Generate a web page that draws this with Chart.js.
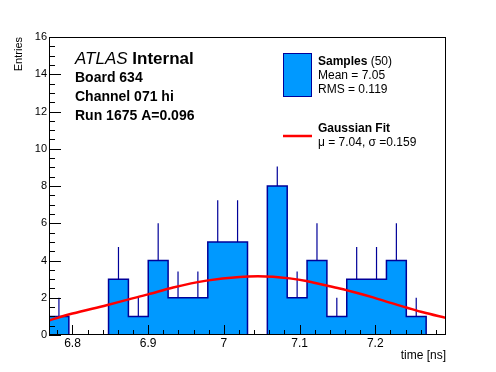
<!DOCTYPE html>
<html>
<head>
<meta charset="utf-8">
<script src="https://cdn.jsdelivr.net/npm/chart.js@4"></script>
<style>
  html, body { margin: 0; padding: 0; background: #fff; }
  canvas { display: block; }
</style>
</head>
<body>
<canvas id="timeHist" width="496" height="372"></canvas>
<script>
// histogram of sample times (20 bins)
const binLow = 6.769;
const binWidth = 0.02622;
const counts = [1, 0, 0, 3, 1, 4, 2, 2, 5, 5, 0, 8, 2, 4, 1, 3, 3, 4, 1, 0];
const errUp  = [1, 0, 0, 1.73, 1, 2, 1.41, 1.41, 2.24, 2.24, 0, 1.05, 1.41, 2, 1, 1.73, 1.73, 2, 1, 0];

// gaussian fit curve
const fitX = [6.769, 6.80, 6.845, 6.873, 6.90, 6.933, 6.977, 7.021, 7.045, 7.065, 7.087, 7.109, 7.131, 7.153, 7.175, 7.197, 7.219, 7.241, 7.263, 7.293];
const fitY = [0.78, 1.15, 1.60, 1.90, 2.18, 2.55, 2.92, 3.12, 3.15, 3.13, 3.04, 2.90, 2.70, 2.50, 2.27, 2.02, 1.74, 1.48, 1.22, 0.92];

const xTicks = [6.8, 6.9, 7.0, 7.1, 7.2];
const yTicks = [0, 2, 4, 6, 8, 10, 12, 14, 16];

const infoLines = ['Board 634', 'Channel 071 hi', 'Run 1675 A=0.096'];

const FILL = 'rgb(0,153,255)';
const LINE = 'rgb(0,0,153)';
const FONT = '"Liberation Sans", Arial, Helvetica, sans-serif';

// step outline of the histogram
const edges = counts.map((c, i) => binLow + i * binWidth);
const histPts = [{ x: binLow, y: 0 }];
counts.forEach((c, i) => histPts.push({ x: edges[i], y: c }));
histPts.push({ x: binLow + counts.length * binWidth, y: 0 });

// error bars (upper half only), separated by gaps
const errPts = [];
counts.forEach((c, i) => {
    if (c <= 0) return;
    const xc = edges[i] + binWidth / 2;
    errPts.push({ x: xc, y: c }, { x: xc, y: c + errUp[i] }, { x: xc, y: null });
});

const fitPts = fitX.map((x, i) => ({ x: x, y: fitY[i] }));

const rootFrame = {
    id: 'rootFrame',
    afterDraw(chart) {
        const { ctx, chartArea: a, scales: { x, y } } = chart;
        ctx.save();
        ctx.strokeStyle = '#000';
        ctx.lineWidth = 1;
        ctx.strokeRect(a.left + 0.5, a.top + 0.5, a.right - a.left - 1, a.bottom - a.top - 1);

        ctx.beginPath();
        // x ticks, inward
        for (let k = Math.ceil(x.min / 0.02); k * 0.02 <= x.max; k++) {
            const v = k * 0.02;
            const px = Math.round(x.getPixelForValue(v)) + 0.5;
            const major = Math.abs(v * 10 - Math.round(v * 10)) < 1e-6;
            ctx.moveTo(px, a.bottom);
            ctx.lineTo(px, a.bottom - (major ? 10 : 5));
        }
        // y ticks, inward
        for (let v = 0; v <= 16; v += 0.5) {
            const py = Math.round(y.getPixelForValue(v)) + 0.5;
            const major = v % 2 === 0;
            ctx.moveTo(a.left, py);
            ctx.lineTo(a.left + (major ? 12 : 6), py);
        }
        ctx.stroke();

        // ATLAS label block
        ctx.fillStyle = '#000';
        ctx.textBaseline = 'alphabetic';
        ctx.font = 'italic 17px ' + FONT;
        ctx.fillText('ATLAS', 75, 64);
        const w = ctx.measureText('ATLAS ').width;
        ctx.font = 'bold 17px ' + FONT;
        ctx.fillText('Internal', 75 + w, 64);
        ctx.font = 'bold 14px ' + FONT;
        infoLines.forEach((t, i) => ctx.fillText(t, 75, 82 + i * 19));

        // legend
        ctx.fillStyle = FILL;
        ctx.fillRect(283, 53, 29, 44);
        ctx.strokeStyle = LINE;
        ctx.strokeRect(283.5, 53.5, 28, 43);
        ctx.fillStyle = '#000';
        ctx.font = 'bold 12px ' + FONT;
        ctx.fillText('Samples', 318, 65);
        const sw = ctx.measureText('Samples ').width;
        ctx.font = '12px ' + FONT;
        ctx.fillText('(50)', 318 + sw, 65);
        ctx.fillText('Mean = 7.05', 318, 79);
        ctx.fillText('RMS = 0.119', 318, 93);

        ctx.strokeStyle = 'rgb(255,0,0)';
        ctx.lineWidth = 2.5;
        ctx.beginPath();
        ctx.moveTo(283, 136);
        ctx.lineTo(312, 136);
        ctx.stroke();
        ctx.font = 'bold 12px ' + FONT;
        ctx.fillText('Gaussian Fit', 318, 132);
        ctx.font = '12px ' + FONT;
        ctx.fillText('\u03bc = 7.04, \u03c3 =0.159', 318, 146);
        ctx.restore();
    }
};

new Chart(document.getElementById('timeHist'), {
    type: 'line',
    data: {
        datasets: [
            {
                label: 'Samples',
                data: histPts,
                stepped: 'before',
                fill: 'origin',
                backgroundColor: FILL,
                borderColor: LINE,
                borderWidth: 1.5,
                pointRadius: 0,
                order: 3
            },
            {
                label: 'errors',
                data: errPts,
                borderColor: LINE,
                borderWidth: 1.2,
                pointRadius: 0,
                spanGaps: false,
                fill: false,
                order: 2
            },
            {
                label: 'Gaussian Fit',
                data: fitPts,
                borderColor: 'rgb(255,0,0)',
                borderWidth: 2.5,
                pointRadius: 0,
                cubicInterpolationMode: 'monotone',
                fill: false,
                order: 1
            }
        ]
    },
    options: {
        responsive: false,
        animation: false,
        layout: { padding: { left: 0, right: 50, top: 37, bottom: 0 } },
        plugins: {
            legend: { display: false },
            tooltip: { enabled: false }
        },
        scales: {
            x: {
                type: 'linear',
                min: binLow,
                max: binLow + counts.length * binWidth,
                grid: { display: false, drawTicks: false },
                border: { display: false },
                afterBuildTicks: s => { s.ticks = xTicks.map(v => ({ value: v })); },
                afterFit: s => { s.height = 37; },
                ticks: {
                    color: '#000',
                    font: { family: FONT, size: 12 },
                    padding: 1,
                    maxRotation: 0,
                    autoSkip: false,
                    callback: v => String(+v.toFixed(2))
                },
                title: {
                    display: true,
                    text: 'time [ns]',
                    align: 'end',
                    color: '#000',
                    font: { family: FONT, size: 12 },
                    padding: { top: 0, bottom: 9 }
                }
            },
            y: {
                min: 0,
                max: 16,
                grid: { display: false, drawTicks: false },
                border: { display: false },
                afterBuildTicks: s => { s.ticks = yTicks.map(v => ({ value: v })); },
                afterFit: s => { s.width = 49; },
                ticks: {
                    color: '#000',
                    font: { family: FONT, size: 11 },
                    padding: 2
                },
                title: {
                    display: true,
                    text: 'Entries',
                    align: 'end',
                    color: '#000',
                    font: { family: FONT, size: 11 },
                    padding: { top: 12, bottom: 0 }
                }
            }
        }
    },
    plugins: [rootFrame]
});
</script>
</body>
</html>
